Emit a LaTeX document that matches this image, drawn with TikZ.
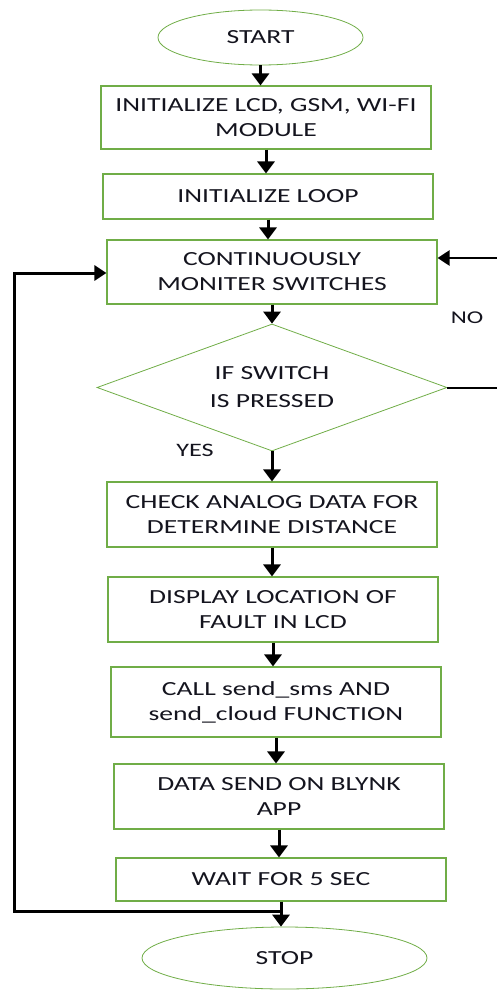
\documentclass[tikz,border=0pt]{standalone}
\usepackage{fontspec}
\setmainfont{Carlito}[FakeStretch=1.38]
\usetikzlibrary{shapes.geometric,arrows.meta}
\definecolor{boxgreen}{RGB}{112,173,71}
\definecolor{txt}{RGB}{20,20,30}
\tikzset{
  stepbox/.style={draw=boxgreen, line width=1.1pt, rectangle, minimum width=330pt, inner sep=0pt, align=center, text=txt, font=\fontsize{20}{25}\selectfont},
  term/.style={draw=boxgreen, line width=0.8pt, ellipse, inner sep=0pt, text=txt, font=\fontsize{20}{25}\selectfont},
  decis/.style={draw=boxgreen, line width=0.8pt, diamond, aspect=2.76, inner sep=0pt, align=center, text=txt, font=\fontsize{20}{28}\selectfont},
  flow/.style={line width=3pt, -{Triangle[length=12pt,width=17pt]}},
  lbl/.style={text=txt, font=\fontsize{19}{23}\selectfont},
}
\begin{document}
\begin{tikzpicture}[x=1pt,y=-1pt]
\useasboundingbox (0,0) rectangle (497,990);
\node[term, minimum width=205pt, minimum height=55pt] (start) at (260.5,37.5) {START};
\node[stepbox, minimum height=63pt] (b1) at (266,117.5) {INITIALIZE LCD, GSM, WI-FI\\MODULE};
\node[stepbox, minimum height=45pt] (b2) at (268,196.5) {INITIALIZE LOOP};
\node[stepbox, minimum height=64pt] (b3) at (272,272) {CONTINUOUSLY\\MONITER SWITCHES};
\node[decis, minimum width=350pt, minimum height=127pt] (d) at (272,387.5) {IF SWITCH\\IS PRESSED};
\node[stepbox, minimum height=65pt] (b4) at (272,514.5) {CHECK ANALOG DATA FOR\\DETERMINE DISTANCE};
\node[stepbox, minimum height=65pt] (b5) at (273,609.5) {DISPLAY LOCATION OF\\FAULT IN LCD};
\node[stepbox, minimum height=70pt] (b6) at (276,702) {CALL send\_sms AND\\send\_cloud FUNCTION};
\node[stepbox, minimum height=65pt] (b7) at (279,796.5) {DATA SEND ON BLYNK\\APP};
\node[stepbox, minimum height=43pt] (b8) at (281,879.5) {WAIT FOR 5 SEC};
\node[term, minimum width=285pt, minimum height=62pt] (stop) at (284.5,958) {STOP};
\node[lbl] (yes) at (195,450) {YES};
\node[lbl, font=\fontsize{18}{22}\selectfont] (no) at (467,318) {NO};

\draw[flow] (start.south) -- (start.south |- b1.north);
\draw[flow] (b1.south) -- (b1.south |- b2.north);
\draw[flow] (b2.south) -- (b2.south |- b3.north);
\draw[flow] (b3.south) -- (b3.south |- d.north);
\draw[flow] (d.south) -- (d.south |- b4.north);
\draw[flow] (b4.south) -- (b4.south |- b5.north);
\draw[flow] (b5.south) -- (b5.south |- b6.north);
\draw[flow] (b6.south) -- (b6.south |- b7.north);
\draw[flow] (b7.south) -- (b7.south |- b8.north);
\draw[flow] (b8.south) -- (b8.south |- stop.north);

\coordinate (j) at (281,911);
\coordinate (lb) at (14,911);
\coordinate (lt) at (14,273);
\draw[line width=3pt, -{Triangle[length=12pt,width=15pt]}] (j) -- (lb) -- (lt) -- (lt -| b3.west);

\coordinate (rb) at (500,387.5);
\coordinate (rt) at (500,258);
\draw[line width=2pt] (d.east) -- (rb) -- (rt);
\draw[line width=2.5pt, -{Triangle[length=12pt,width=15pt]}] (rt) -- (rt -| b3.east);
\end{tikzpicture}
\end{document}
